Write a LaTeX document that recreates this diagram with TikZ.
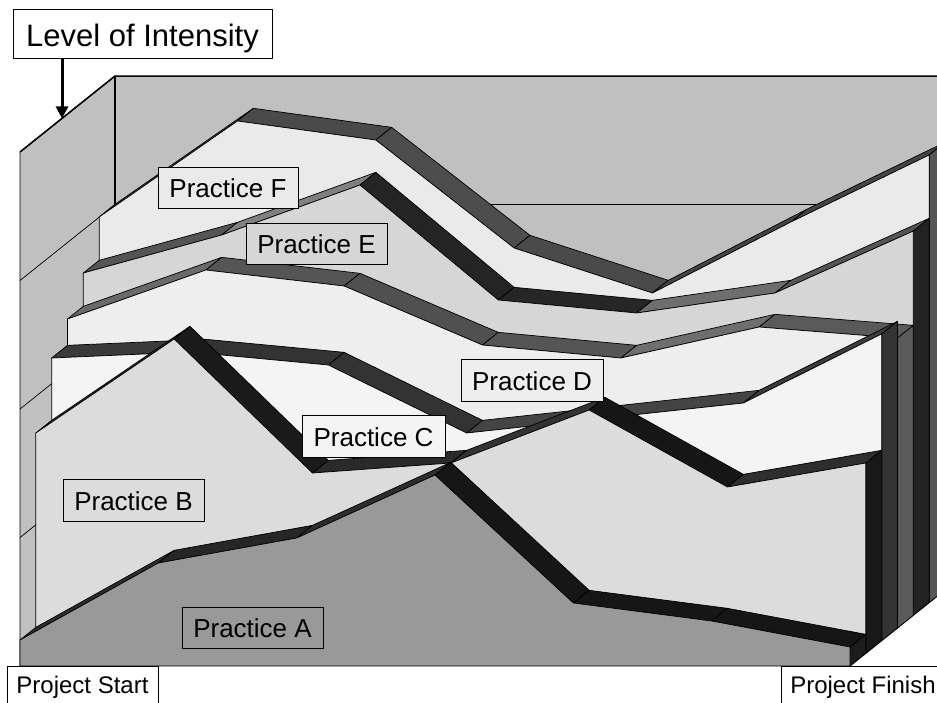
\documentclass[tikz,border=0pt]{standalone}
\usepackage{fontspec}
\setmainfont{Liberation Sans}
\usetikzlibrary{arrows.meta}
\newcommand\gc[1]{\definecolor{k#1}{HTML}{#1#1#1}}
\gc{16}\gc{18}\gc{1A}\gc{1C}\gc{23}\gc{24}\gc{26}\gc{2A}\gc{2D}\gc{2E}\gc{33}\gc{3A}\gc{3C}
\gc{44}\gc{4A}\gc{4D}\gc{50}\gc{55}\gc{5A}\gc{6A}\gc{6E}\gc{80}
\gc{99}\gc{DC}\gc{F4}\gc{EE}\gc{D6}\gc{EA}\gc{C0}
% series coordinates: name, depth index, 7 front-top y values
\newcommand\defseries[3]{%
  \foreach \yy [count=\i from 0] in {#3} {
    \coordinate (#1\i) at ({20+138.333*\i+15.83*#2}, \yy);
    \coordinate (#1b\i) at ({20+138.333*\i+15.83*(#2+1)}, {\yy-12.67});
  }
  \coordinate (#1s) at ({20+15.83*#2}, {666-12.67*#2});
  \coordinate (#1z) at ({850+15.83*#2}, {666-12.67*#2});
  \coordinate (#1zb) at ({850+15.83*(#2+1)}, {666-12.67*(#2+1)});
}
\newcommand\ribbon[2]{\filldraw[face, fill=#2] (#1s) -- (#10) -- (#11) -- (#12) -- (#13) -- (#14) -- (#15) -- (#16) -- (#1z) -- cycle;}
\newcommand\capface[2]{\filldraw[face, fill=#2] (#16) -- (#1b6) -- (#1zb) -- (#1z) -- cycle;}
\newcommand\strip[4]{\filldraw[face, fill=#4] (#1#2) -- (#1#3) -- (#1b#3) -- (#1b#2) -- cycle;}
\begin{document}
\begin{tikzpicture}[x=1pt, y=-1pt,
  face/.style={draw=black, line width=0.7pt, line join=round},
  lbl/.style={draw=black, line width=0.8pt, inner sep=0pt, text height=20pt, text depth=0pt,
    font=\fontsize{26}{30}\selectfont, minimum height=41pt, minimum width=141pt}]
\useasboundingbox (0,0) rectangle (937,702);
\clip (0,0) rectangle (937,702);
\fill[white] (0,0) rectangle (937,702);
% walls
\coordinate (wFT) at (20,152);
\coordinate (wBT) at (115,76);
\coordinate (wBTR) at (945,76);
\coordinate (wBBR) at (945,590);
\coordinate (wBB) at (115,590);
\coordinate (wFB) at (20,666);
\coordinate (wFBR) at (850,666);
\filldraw[face, fill=kC0] (wFT) -- (wBT) -- (wBB) -- (wFB) -- cycle;
\filldraw[face, fill=kC0] (wBT) -- (wBTR) -- (wBBR) -- (wBB) -- cycle;
\foreach \j in {1,2,3}
  \draw[line width=0.7pt] (20,{666-128.5*\j}) -- (115,{590-128.5*\j}) -- (945,{590-128.5*\j});
\draw[line width=2.2pt] (wBT) -- (wBB);
\draw[line width=1.5pt] (wFT) -- (wBT) -- (wBTR);
\draw[face] (wFBR) -- (wBBR);
% series data
\defseries{F}{5}{217,121,140,248,293,222,155}
\defseries{E}{4}{273,235,185,300,313,293,231}
\defseries{D}{3}{319,270,286,345,358,327,338}
\defseries{C}{2}{358,352,365,433,418,403,334}
\defseries{B}{1}{433,339,473,463,410,487,463}
\defseries{A}{0}{640,563,538,475,603,621,647}
% F
\strip{F}{0}{1}{k55}\strip{F}{1}{2}{k4A}\strip{F}{2}{3}{k4D}
\strip{F}{3}{4}{k4A}\strip{F}{4}{5}{k44}\strip{F}{5}{6}{k44}
\capface{F}{k55}\ribbon{F}{kEA}
% E
\strip{E}{0}{1}{k55}\strip{E}{1}{2}{k80}\strip{E}{2}{3}{k24}
\strip{E}{3}{4}{k26}\strip{E}{4}{5}{k6E}\strip{E}{5}{6}{k55}
\capface{E}{k23}\ribbon{E}{kD6}
% D
\strip{D}{0}{1}{k6A}\strip{D}{1}{2}{k55}\strip{D}{2}{3}{k50}
\strip{D}{3}{4}{k55}\strip{D}{4}{5}{k6E}\strip{D}{5}{6}{k5A}
\capface{D}{k5A}\ribbon{D}{kEE}
% C
\strip{C}{0}{1}{k3A}\strip{C}{1}{2}{k33}\strip{C}{2}{3}{k33}
\strip{C}{3}{4}{k44}\strip{C}{4}{5}{k44}\strip{C}{5}{6}{k3C}
\capface{C}{k33}\ribbon{C}{kF4}
% B
\strip{B}{0}{1}{k33}\strip{B}{1}{2}{k1A}\strip{B}{2}{3}{k2A}
\strip{B}{3}{4}{k33}\strip{B}{4}{5}{k16}\strip{B}{5}{6}{k2E}
\capface{B}{k18}\ribbon{B}{kDC}
% A
\strip{A}{0}{1}{k2D}\strip{A}{1}{2}{k26}\strip{A}{2}{3}{k2D}
\strip{A}{3}{4}{k16}\strip{A}{4}{5}{k16}\strip{A}{5}{6}{k16}
\capface{A}{k1C}\ribbon{A}{k99}
% labels
\node[lbl, fill=kEA, minimum width=140pt] (lF) at (228,187.5) {Practice F};
\node[lbl, fill=kD6] (lE) at (316.5,243.5) {Practice E};
\node[lbl, fill=kEE, minimum width=142pt, minimum height=42pt] (lD) at (532,380) {Practice D};
\node[lbl, fill=kF4, minimum width=143pt, minimum height=42pt] (lC) at (373.5,436) {Practice C};
\node[lbl, fill=kDC, minimum height=42pt] (lB) at (133.5,500) {Practice B};
\node[lbl, fill=k99] (lA) at (252.5,627.5) {Practice A};
\node[lbl, fill=white, minimum width=259pt, minimum height=49pt, text height=26pt,
  font=\fontsize{31}{36}\selectfont] (lvl) at (142.5,33.5) {Level of Intensity};
\node[lbl, fill=white, minimum width=151pt, minimum height=42pt, text height=12pt,
  font=\fontsize{24}{28}\selectfont] (pstart) at (82.5,687) {Project Start};
\node[lbl, fill=white, minimum width=164pt, minimum height=42pt, text height=12pt,
  font=\fontsize{24}{28}\selectfont] (pfinish) at (863,687) {Project Finish};
\coordinate (wallpt) at (62,118.4);
\draw[line width=3pt, -{Triangle[length=12pt,width=12pt]}] (lvl.south -| wallpt) -- (wallpt);
\end{tikzpicture}
\end{document}
